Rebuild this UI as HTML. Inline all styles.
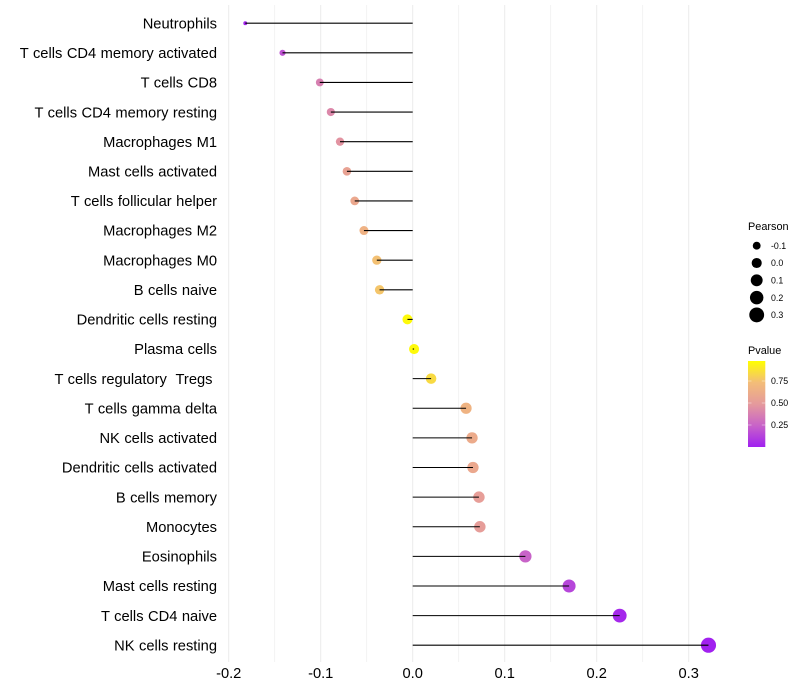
<!DOCTYPE html>
<html>
<head>
<meta charset="utf-8">
<style>
html,body{margin:0;padding:0;background:#fff;width:800px;height:700px;overflow:hidden}
svg{display:block}
text{font-family:"Liberation Sans",sans-serif;white-space:pre}
</style>
</head>
<body>
<svg id="chart" xmlns="http://www.w3.org/2000/svg" width="800" height="700" viewBox="0 0 800 700">
  <defs>
    <linearGradient id="pg" x1="0" y1="1" x2="0" y2="0">
      <stop offset="0" stop-color="#a020f0"/>
      <stop offset="0.25" stop-color="#c863c8"/>
      <stop offset="0.5" stop-color="#e59a9c"/>
      <stop offset="0.75" stop-color="#f3bd78"/>
      <stop offset="1" stop-color="#ffff00"/>
    </linearGradient>
  </defs>
  <g id="grid"></g>
  <g id="marks"></g>
  <g id="ylabels"></g>
  <g id="xlabels"></g>
  <g>
    <text x="748" y="230" font-size="10.9" fill="#000">Pearson</text>
    <g id="sizeLegend"></g>
  </g>
  <g>
    <text x="748" y="354" font-size="10.9" fill="#000">Pvalue</text>
    <rect x="748" y="361" width="17.3" height="86" fill="url(#pg)"/>
    <g id="colorLegend"></g>
  </g>
</svg>
<script>
const categories = ["Neutrophils","T cells CD4 memory activated","T cells CD8","T cells CD4 memory resting","Macrophages M1","Mast cells activated","T cells follicular helper","Macrophages M2","Macrophages M0","B cells naive","Dendritic cells resting","Plasma cells","T cells regulatory  Tregs ","T cells gamma delta","NK cells activated","Dendritic cells activated","B cells memory","Monocytes","Eosinophils","Mast cells resting","T cells CD4 naive","NK cells resting"];
const pearson = [-0.182,-0.1415,-0.101,-0.089,-0.079,-0.0715,-0.063,-0.053,-0.039,-0.036,-0.0057,0.0015,0.02,0.058,0.0645,0.0655,0.072,0.073,0.1225,0.17,0.225,0.3215];
const pvalues = [0.02,0.19,0.38,0.42,0.47,0.56,0.6,0.67,0.76,0.78,0.98,0.98,0.86,0.68,0.62,0.6,0.53,0.52,0.25,0.14,0.03,0.005];
const xTicks = [-0.2,-0.1,0.0,0.1,0.2,0.3];
const xMinorTicks = [-0.15,-0.05,0.05,0.15,0.25];
const sizeLegendValues = [-0.1,0.0,0.1,0.2,0.3];
const colorLegendValues = [0.25,0.5,0.75];

const NS = "http://www.w3.org/2000/svg";
const xScale = v => 412.7 + v * 920;
const yScale = i => 23.2 + i * 29.62;
const rScale = v => Math.sqrt(Math.max(2.9, 23 + 95 * v - 40 * Math.max(0, -0.1 - v)));
const pY = p => 447 - p * 88;
function hex(a){return [parseInt(a.slice(1,3),16),parseInt(a.slice(3,5),16),parseInt(a.slice(5,7),16)];}
const ramp = ["#a020f0","#c863c8","#e59a9c","#f3bd78","#ffff00"];
function colorOf(p){
  const t = Math.min(0.9999, Math.max(0, p)) * 4;
  const k = Math.floor(t), f = t - k;
  const a = hex(ramp[k]), b = hex(ramp[k + 1]);
  return "rgb(" + a.map((c, i) => Math.round(c + (b[i] - c) * f)).join(",") + ")";
}
function make(tag, attrs){
  const el = document.createElementNS(NS, tag);
  for (const k in attrs) el.setAttribute(k, attrs[k]);
  return el;
}
const grid = document.getElementById("grid");
xMinorTicks.forEach(v => {
  const l = make("line", {x1: xScale(v), x2: xScale(v), y1: 5, y2: 662, stroke: "#f0f0f0", "stroke-width": 0.8});
  
  
  grid.appendChild(l);
});
xTicks.forEach(v => {
  const l = make("line", {x1: xScale(v), x2: xScale(v), y1: 5, y2: 662, stroke: "#ebebeb", "stroke-width": 1});
  
  
  grid.appendChild(l);
});
const marks = document.getElementById("marks");
categories.forEach((c, i) => {
  const dot = make("circle", {cx: xScale(pearson[i]), cy: yScale(i), r: rScale(pearson[i]) + 0.25, fill: colorOf(pvalues[i])});
  
  
  marks.appendChild(dot);
  const stem = make("line", {x1: xScale(0), x2: xScale(pearson[i]), y1: yScale(i), y2: yScale(i), stroke: "#000", "stroke-width": 1.07});
  
  
  marks.appendChild(stem);
});
const ylabels = document.getElementById("ylabels");
categories.forEach((c, i) => {
  const t = make("text", {x: 217, y: yScale(i) + 5.2, "text-anchor": "end", "font-size": 14.7, "word-spacing": 0.4, fill: "#000"});
  t.textContent = c;
  
  
  ylabels.appendChild(t);
});
const xlabels = document.getElementById("xlabels");
xTicks.forEach(v => {
  const t = make("text", {x: xScale(v), y: 678, "text-anchor": "middle", "font-size": 14.67, fill: "#000"});
  t.textContent = v.toFixed(1);
  
  
  xlabels.appendChild(t);
});
const sizeLegend = document.getElementById("sizeLegend");
sizeLegendValues.forEach((v, i) => {
  const y = 245.7 + i * 17.3;
  const dot = make("circle", {cx: 756.7, cy: y, r: rScale(v) + 0.25, fill: "#000"});
  
  
  sizeLegend.appendChild(dot);
  const t = make("text", {x: 771, y: y + 3.2, "font-size": 8.8, fill: "#000"});
  t.textContent = v.toFixed(1);
  
  
  sizeLegend.appendChild(t);
});
const colorLegend = document.getElementById("colorLegend");
colorLegendValues.forEach(p => {
  const y = pY(p);
  [[748, 751.5], [761.8, 765.3]].forEach(s => {
    const tick = make("line", {x1: s[0], x2: s[1], y1: y, y2: y, stroke: "#fff", "stroke-opacity": 0.7, "stroke-width": 0.6});
    
    
    colorLegend.appendChild(tick);
  });
  const t = make("text", {x: 771, y: y + 3.2, "font-size": 8.8, fill: "#000"});
  t.textContent = p.toFixed(2);
  
  
  colorLegend.appendChild(t);
});
</script>
</body>
</html>
